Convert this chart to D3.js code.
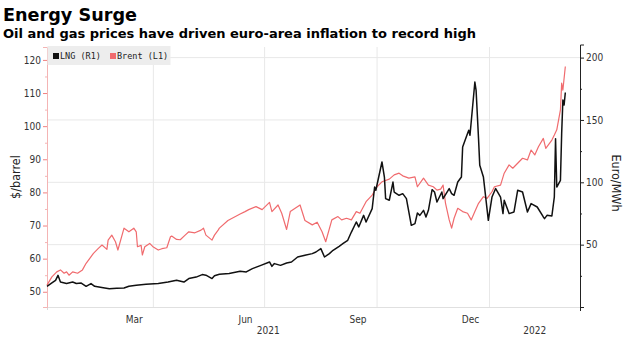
<!DOCTYPE html>
<html>
<head>
<meta charset="utf-8">
<script src="https://cdn.jsdelivr.net/npm/d3@7"></script>
<style>
  body { margin: 0; background: #fff; }
  .tick text { font-family: "DejaVu Sans Condensed", "DejaVu Sans", sans-serif; font-size: 10px; fill: #333; }
  .axisText { font-family: "DejaVu Sans Condensed", "DejaVu Sans", sans-serif; font-size: 12.5px; fill: #222; }
</style>
</head>
<body>
<div class="chart"></div>
<script>
// Brent crude, $/barrel (left axis)
var brent = [
  ["2021-01-04", 52.0], ["2021-01-08", 54.5], ["2021-01-12", 56.0], ["2021-01-15", 56.6],
  ["2021-01-18", 55.6], ["2021-01-20", 56.0], ["2021-01-22", 55.0], ["2021-01-25", 56.0],
  ["2021-01-29", 55.6], ["2021-02-02", 56.6], ["2021-02-05", 58.6], ["2021-02-08", 60.1],
  ["2021-02-11", 61.6], ["2021-02-15", 63.1], ["2021-02-18", 64.1], ["2021-02-22", 62.8],
  ["2021-02-23", 65.6], ["2021-02-26", 67.1], ["2021-03-01", 65.1], ["2021-03-03", 62.6],
  ["2021-03-08", 69.2], ["2021-03-12", 68.1], ["2021-03-16", 69.2], ["2021-03-18", 68.1],
  ["2021-03-19", 63.6], ["2021-03-22", 64.0], ["2021-03-23", 61.1], ["2021-03-25", 63.6],
  ["2021-03-29", 64.6], ["2021-04-01", 63.5], ["2021-04-05", 62.6], ["2021-04-08", 63.0],
  ["2021-04-12", 63.3], ["2021-04-15", 66.6], ["2021-04-16", 66.8], ["2021-04-20", 65.8],
  ["2021-04-23", 65.7], ["2021-04-27", 67.1], ["2021-04-30", 68.1], ["2021-05-05", 67.8],
  ["2021-05-10", 68.6], ["2021-05-12", 69.2], ["2021-05-14", 67.1], ["2021-05-19", 65.6],
  ["2021-05-21", 67.1], ["2021-05-24", 68.6], ["2021-05-25", 69.2], ["2021-06-01", 71.5],
  ["2021-06-11", 73.5], ["2021-06-15", 74.2], ["2021-06-18", 74.8], ["2021-06-24", 75.7],
  ["2021-06-29", 74.8], ["2021-07-05", 77.0], ["2021-07-07", 74.2], ["2021-07-12", 76.2],
  ["2021-07-15", 73.7], ["2021-07-19", 68.8], ["2021-07-22", 74.2], ["2021-07-26", 75.2],
  ["2021-07-30", 76.2], ["2021-08-03", 71.5], ["2021-08-09", 70.2], ["2021-08-13", 71.0],
  ["2021-08-17", 68.1], ["2021-08-20", 65.1], ["2021-08-25", 71.7], ["2021-08-30", 72.7],
  ["2021-09-02", 71.7], ["2021-09-06", 72.2], ["2021-09-10", 71.7], ["2021-09-14", 74.2],
  ["2021-09-17", 73.7], ["2021-09-22", 77.2], ["2021-09-27", 79.2], ["2021-10-01", 81.7],
  ["2021-10-05", 83.2], ["2021-10-11", 84.0], ["2021-10-15", 85.3], ["2021-10-19", 85.8],
  ["2021-10-22", 85.0], ["2021-10-27", 84.3], ["2021-11-01", 84.7], ["2021-11-03", 81.7],
  ["2021-11-08", 84.3], ["2021-11-12", 82.2], ["2021-11-16", 81.7], ["2021-11-19", 80.7],
  ["2021-11-22", 81.0], ["2021-11-24", 82.2], ["2021-11-26", 76.7], ["2021-11-29", 71.7],
  ["2021-12-01", 69.2], ["2021-12-03", 72.2], ["2021-12-06", 75.2], ["2021-12-10", 74.2],
  ["2021-12-14", 73.7], ["2021-12-17", 71.7], ["2021-12-20", 74.2], ["2021-12-23", 76.7],
  ["2021-12-27", 78.7], ["2021-12-30", 78.2], ["2022-01-03", 80.2], ["2022-01-05", 81.7],
  ["2022-01-10", 82.2], ["2022-01-13", 85.8], ["2022-01-17", 88.3], ["2022-01-20", 87.3],
  ["2022-01-24", 88.8], ["2022-01-28", 90.3], ["2022-02-01", 89.8], ["2022-02-04", 92.8],
  ["2022-02-07", 91.3], ["2022-02-10", 93.8], ["2022-02-14", 96.3], ["2022-02-16", 93.3],
  ["2022-02-21", 95.8], ["2022-02-23", 97.3], ["2022-02-25", 98.9], ["2022-02-28", 104.9],
  ["2022-03-01", 113.0], ["2022-03-02", 110.9], ["2022-03-04", 118.0]
];

// LNG, Euro/MWh (right axis)
var lng = [
  ["2021-01-04", 16.6], ["2021-01-08", 19.3], ["2021-01-11", 21.4], ["2021-01-13", 25.4],
  ["2021-01-15", 20.0], ["2021-01-20", 18.8], ["2021-01-25", 20.0], ["2021-01-28", 18.8],
  ["2021-02-01", 19.2], ["2021-02-05", 16.6], ["2021-02-09", 18.8], ["2021-02-12", 16.6],
  ["2021-02-19", 15.5], ["2021-02-24", 14.7], ["2021-03-02", 15.0], ["2021-03-08", 15.2],
  ["2021-03-12", 16.6], ["2021-03-18", 17.4], ["2021-03-26", 18.2], ["2021-04-05", 18.8],
  ["2021-04-13", 20.0], ["2021-04-20", 21.4], ["2021-04-26", 20.0], ["2021-04-30", 22.8],
  ["2021-05-06", 24.0], ["2021-05-11", 26.0], ["2021-05-14", 25.5], ["2021-05-19", 22.8],
  ["2021-05-21", 25.0], ["2021-05-25", 26.2], ["2021-06-02", 26.8], ["2021-06-11", 28.6],
  ["2021-06-16", 28.1], ["2021-06-21", 30.8], ["2021-06-28", 33.4], ["2021-07-05", 36.1],
  ["2021-07-07", 32.6], ["2021-07-09", 34.8], ["2021-07-14", 33.4], ["2021-07-19", 35.3],
  ["2021-07-23", 36.1], ["2021-07-28", 40.1], ["2021-08-03", 41.5], ["2021-08-09", 42.8],
  ["2021-08-12", 44.1], ["2021-08-16", 46.8], ["2021-08-19", 40.1], ["2021-08-23", 42.8],
  ["2021-08-26", 45.5], ["2021-08-31", 48.7], ["2021-09-03", 50.8], ["2021-09-07", 53.5],
  ["2021-09-10", 60.1], ["2021-09-14", 68.2], ["2021-09-16", 64.2], ["2021-09-20", 73.5],
  ["2021-09-22", 68.2], ["2021-09-27", 78.9], ["2021-09-29", 96.2], ["2021-09-30", 93.6],
  ["2021-10-05", 116.3], ["2021-10-07", 104.2], ["2021-10-08", 86.9], ["2021-10-11", 85.6],
  ["2021-10-14", 100.2], ["2021-10-15", 92.2], ["2021-10-19", 89.6], ["2021-10-22", 90.9],
  ["2021-10-25", 86.9], ["2021-10-29", 65.5], ["2021-11-01", 66.9], ["2021-11-03", 75.4],
  ["2021-11-05", 73.5], ["2021-11-08", 77.5], ["2021-11-10", 72.2], ["2021-11-12", 77.5],
  ["2021-11-15", 94.1], ["2021-11-17", 92.2], ["2021-11-19", 84.2], ["2021-11-23", 92.2],
  ["2021-11-24", 86.9], ["2021-11-29", 94.9], ["2021-12-01", 90.9], ["2021-12-03", 89.6],
  ["2021-12-06", 100.2], ["2021-12-09", 104.2], ["2021-12-10", 128.3], ["2021-12-14", 139.1],
  ["2021-12-15", 141.7], ["2021-12-16", 137.7], ["2021-12-20", 180.4], ["2021-12-21", 173.8],
  ["2021-12-23", 135.0], ["2021-12-24", 113.6], ["2021-12-27", 104.2], ["2021-12-31", 69.5],
  ["2022-01-03", 88.2], ["2022-01-06", 95.0], ["2022-01-10", 88.2], ["2022-01-12", 74.9],
  ["2022-01-13", 85.6], ["2022-01-17", 74.9], ["2022-01-21", 76.2], ["2022-01-24", 93.6],
  ["2022-01-28", 92.2], ["2022-02-01", 76.2], ["2022-02-04", 82.9], ["2022-02-09", 80.2],
  ["2022-02-14", 72.2], ["2022-02-15", 70.9], ["2022-02-17", 73.5], ["2022-02-21", 73.0],
  ["2022-02-23", 88.2], ["2022-02-24", 135.0], ["2022-02-25", 96.2], ["2022-02-28", 101.6],
  ["2022-03-01", 139.0], ["2022-03-02", 166.0], ["2022-03-03", 162.0], ["2022-03-04", 172.0]
];

// axis ticks and labels
var leftTicks = [50, 60, 70, 80, 90, 100, 110, 120];
var rightTicks = [0, 50, 100, 150, 200];
var monthLabels = [["2021-03-16", "Mar"], ["2021-06-15", "Jun"], ["2021-09-15", "Sep"], ["2021-12-16", "Dec"]];
var quarterLines = ["2021-04-01", "2021-07-01", "2021-10-01", "2022-01-01"];
var yearLabels = ["2021", "2022"];

var svgWidth = 630;
var svgHeight = 337;

var margin = { top: 47, right: 50, bottom: 30, left: 47 };
var width = svgWidth - margin.left - margin.right;
var height = svgHeight - margin.top - margin.bottom;

var parseTime = d3.timeParse("%Y-%m-%d");
var brentData = brent.map(d => ({ date: parseTime(d[0]), value: d[1] }));
var lngData = lng.map(d => ({ date: parseTime(d[0]), value: d[1] }));

var svg = d3.select(".chart")
  .append("svg")
  .attr("width", svgWidth)
  .attr("height", svgHeight);

// titles
svg.append("text")
  .attr("x", 3).attr("y", 21)
  .attr("textLength", 134).attr("lengthAdjust", "spacingAndGlyphs")
  .style("font-family", "DejaVu Sans, sans-serif")
  .style("font-weight", "bold").style("font-size", "17.5px").style("fill", "#000")
  .text("Energy Surge");

svg.append("text")
  .attr("x", 3).attr("y", 38)
  .attr("textLength", 473).attr("lengthAdjust", "spacingAndGlyphs")
  .style("font-family", "DejaVu Sans, sans-serif")
  .style("font-weight", "bold").style("font-size", "12.5px").style("fill", "#000")
  .text("Oil and gas prices have driven euro-area inflation to record high");

var chartGroup = svg.append("g")
  .attr("transform", `translate(${margin.left}, ${margin.top})`);

var xTimeScale = d3.scaleTime()
  .domain([parseTime("2021-01-04"), parseTime("2022-03-16")])
  .range([0, width]);

var yLeftScale = d3.scaleLinear()
  .domain([45.4, 123.9])
  .range([height, 0]);

var yRightScale = d3.scaleLinear()
  .domain([0, 208.5])
  .range([height, 0]);

// gridlines
chartGroup.append("g")
  .selectAll("line")
  .data([50, 100, 150, 200])
  .enter()
  .append("line")
  .attr("x1", 0).attr("x2", width)
  .attr("y1", d => yRightScale(d)).attr("y2", d => yRightScale(d))
  .attr("stroke", "#e8e8e8").attr("stroke-width", 1);

chartGroup.append("g")
  .selectAll("line")
  .data(quarterLines)
  .enter()
  .append("line")
  .attr("x1", d => xTimeScale(parseTime(d))).attr("x2", d => xTimeScale(parseTime(d)))
  .attr("y1", 0).attr("y2", height)
  .attr("stroke", "#e8e8e8").attr("stroke-width", 1);

// bottom axis line
chartGroup.append("line")
  .attr("x1", 0).attr("x2", width)
  .attr("y1", height + 0.5).attr("y2", height + 0.5)
  .attr("stroke", "#e0e0e0");
chartGroup.append("line")
  .attr("x1", 0.5).attr("x2", 0.5)
  .attr("y1", height).attr("y2", height + 3)
  .attr("stroke", "#d8d8d8");

// month labels
var bottomAxis = d3.axisBottom(xTimeScale)
  .tickValues(monthLabels.map(d => parseTime(d[0])))
  .tickFormat((d, i) => monthLabels[i][1])
  .tickSize(0)
  .tickPadding(9);

var xAxisGroup = chartGroup.append("g")
  .attr("transform", `translate(0, ${height})`)
  .call(bottomAxis);
xAxisGroup.select(".domain").remove();

// year labels centred on the visible part of each year
var yearStart = xTimeScale.range()[0];
var yearSplit = xTimeScale(parseTime("2022-01-01"));
var yearEnd = xTimeScale.range()[1];
chartGroup.append("g")
  .selectAll("text")
  .data(yearLabels)
  .enter()
  .append("text")
  .attr("x", (d, i) => i === 0 ? (yearStart + yearSplit) / 2 : (yearSplit + yearEnd) / 2)
  .attr("y", height + 27)
  .attr("text-anchor", "middle")
  .style("font-family", "DejaVu Sans Condensed, DejaVu Sans, sans-serif")
  .style("font-size", "10px").style("fill", "#333")
  .text(d => d);

// left axis (Brent)
var leftAxis = d3.axisLeft(yLeftScale)
  .tickValues(leftTicks)
  .tickSize(4)
  .tickPadding(2);
var leftGroup = chartGroup.append("g").call(leftAxis);
leftGroup.select(".domain").attr("stroke", "#f4b4b4");
leftGroup.selectAll(".tick line").attr("stroke", "#f08080");

var leftMinor = d3.axisLeft(yLeftScale)
  .tickValues(d3.range(50, 121, 5).filter(v => v % 10 !== 0))
  .tickSize(2)
  .tickFormat("");
var leftMinorGroup = chartGroup.append("g").call(leftMinor);
leftMinorGroup.select(".domain").remove();
leftMinorGroup.selectAll(".tick line").attr("stroke", "#f4b4b4");

// right axis (LNG)
var rightAxis = d3.axisRight(yRightScale)
  .tickValues(rightTicks)
  .tickSize(4)
  .tickPadding(2)
  .tickFormat(d => d === 0 ? "" : d);
var rightGroup = chartGroup.append("g")
  .attr("transform", `translate(${width}, 0)`)
  .call(rightAxis);
rightGroup.select(".domain").attr("stroke", "#222").attr("d", `M4,-2H0.5V${height + 4}`);
rightGroup.selectAll(".tick line").attr("stroke", "#222");

var rightMinor = d3.axisRight(yRightScale)
  .tickValues([25, 75, 125, 175])
  .tickSize(2)
  .tickFormat("");
var rightMinorGroup = chartGroup.append("g")
  .attr("transform", `translate(${width}, 0)`)
  .call(rightMinor);
rightMinorGroup.select(".domain").remove();
rightMinorGroup.selectAll(".tick line").attr("stroke", "#222");

// lines
var brentLine = d3.line()
  .x(d => xTimeScale(d.date))
  .y(d => yLeftScale(d.value));

var lngLine = d3.line()
  .x(d => xTimeScale(d.date))
  .y(d => yRightScale(d.value));

chartGroup.append("path")
  .datum(brentData)
  .attr("fill", "none")
  .attr("stroke", "#f06b6e")
  .attr("stroke-width", 1.2)
  .attr("stroke-linejoin", "round")
  .attr("d", brentLine);

chartGroup.append("path")
  .datum(lngData)
  .attr("fill", "none")
  .attr("stroke", "#111")
  .attr("stroke-width", 1.5)
  .attr("stroke-linejoin", "round")
  .attr("d", lngLine);

// legend
var legend = chartGroup.append("g");
legend.append("rect")
  .attr("x", 0.5).attr("y", -1)
  .attr("width", 123).attr("height", 19)
  .attr("fill", "#ededed");

var legendItems = [["LNG (R1)", "#111", 6], ["Brent (L1)", "#f06b6e", 63]];
legendItems.forEach(function(item) {
  legend.append("rect")
    .attr("x", item[2]).attr("y", 6)
    .attr("width", 6).attr("height", 6)
    .attr("fill", item[1]);
  legend.append("text")
    .attr("x", item[2] + 7).attr("y", 12)
    .style("font-family", "DejaVu Sans Mono, monospace")
    .style("font-size", "8.5px").style("fill", "#222")
    .text(item[0]);
});

// axis titles
chartGroup.append("text")
  .attr("transform", "rotate(-90)")
  .attr("y", 0 - margin.left + 20)
  .attr("x", 0 - 130)
  .attr("text-anchor", "middle")
  .attr("class", "axisText")
  .text("$/barrel");

chartGroup.append("text")
  .attr("transform", `translate(${width + 32}, 136) rotate(90)`)
  .attr("text-anchor", "middle")
  .attr("class", "axisText")
  .text("Euro/MWh");
</script>
</body>
</html>
